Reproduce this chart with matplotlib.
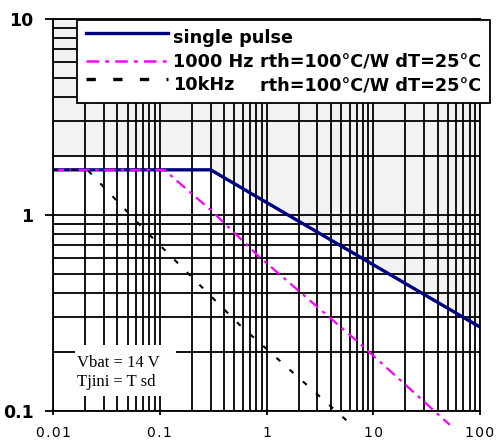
import matplotlib
matplotlib.use('Agg')
import matplotlib.pyplot as plt
from matplotlib.patches import Rectangle
from matplotlib.lines import Line2D
from matplotlib.ticker import LogLocator, NullFormatter

# single pulse curve
single_x = [0.01, 0.3, 100]
single_y = [1.7, 1.7, 0.268]
# 1000 Hz curve
hz1000_x = [0.01, 0.11, 0.3, 0.86, 7.4, 52]
hz1000_y = [1.7, 1.7, 1.06, 0.61, 0.222, 0.085]
# 10 kHz curve
khz10_x = [0.01, 0.021, 0.069, 0.56, 6.1]
khz10_y = [1.7, 1.7, 0.86, 0.275, 0.086]
# grey area above the single pulse curve
shade_x = [0.01, 0.3, 0.3, 100]
shade_y = [2, 2, 1.7, 0.268]

x_ticks = [0.01, 0.1, 1, 10, 100]
x_labels = ['0.01', '0.1', '1', '10', '100']
y_ticks = [0.1, 1, 10]
y_labels = ['0.1', '1', '10']

legend_labels = ['single pulse', '1000 Hz', '10kHz']
legend_extra = ['', 'rth=100°C/W dT=25°C', 'rth=100°C/W dT=25°C']
note_lines = ['Vbat = 14 V', 'Tjini = T sd']

W, H = 496, 443
fig = plt.figure(figsize=(W / 100, H / 100), dpi=100)
ax = fig.add_axes([53 / W, 1 - 411 / H, 427 / W, 392 / H])

ax.set_xscale('log')
ax.set_yscale('log')
ax.set_xlim(0.01, 100)
ax.set_ylim(0.1, 10)

ax.fill_between(shade_x, shade_y, 10, color='#f2f2f2', lw=0, zorder=1)

ax.xaxis.set_minor_locator(LogLocator(base=10, subs=range(2, 10)))
ax.yaxis.set_minor_locator(LogLocator(base=10, subs=range(2, 10)))
ax.xaxis.set_minor_formatter(NullFormatter())
ax.yaxis.set_minor_formatter(NullFormatter())
ax.grid(True, which='both', color='black', lw=1.3)

ax.plot(single_x, single_y, color='#000080', lw=2.4, zorder=3,
        solid_capstyle='butt')
ax.plot(hz1000_x, hz1000_y, color='#ff00ff', lw=1.6, zorder=4,
        linestyle=(0, (5, 2.5, 1.5, 2.5)), clip_on=False)
ax.plot(khz10_x, khz10_y, color='black', lw=1.5, zorder=5,
        linestyle=(0, (2.5, 6)), clip_on=False)

# tick labels are letter-spaced in the original
spaced = ['\u200a'.join(s) for s in x_labels]
ax.set_xticks(x_ticks)
ax.set_xticklabels(spaced, fontsize=10)
ax.set_yticks(y_ticks)
ax.set_yticklabels(y_labels, fontsize=12.5, fontweight='bold')
ax.tick_params(axis='x', which='major', length=3, width=1.3, pad=8)
ax.tick_params(axis='y', which='major', length=6, width=1.3, pad=8)
ax.tick_params(which='minor', length=0)
for sp in ax.spines.values():
    sp.set_linewidth(1.3)
    sp.set_color('black')

# note box
ax.add_patch(Rectangle((75 / W, 1 - 396 / H), 101 / W, 51 / H,
                       transform=fig.transFigure, facecolor='white',
                       edgecolor='none', zorder=6))
fig.text(77 / W, 1 - 367 / H, note_lines[0], family='Liberation Serif',
         fontsize=12, va='baseline', zorder=7)
fig.text(77 / W, 1 - 386 / H, note_lines[1], family='Liberation Serif',
         fontsize=12, va='baseline', zorder=7)

# legend drawn by hand
fig.add_artist(Rectangle((77 / W, 1 - 103 / H), 413 / W, 83 / H,
                         transform=fig.transFigure, facecolor='white',
                         edgecolor='black', lw=1.3, zorder=10))
styles = [dict(color='#000080', lw=2.4),
          dict(color='#ff00ff', lw=1.8, linestyle=(0, (5, 2.5, 1.5, 2.5))),
          dict(color='black', lw=2.4, linestyle=(0, (2.8, 5.2)))]
line_y = [33, 61, 79]
text_y = [43, 67, 90]
for lab, extra, st, ly, ty in zip(legend_labels, legend_extra, styles,
                                  line_y, text_y):
    fig.add_artist(Line2D([86 / W, 168 / W], [1 - ly / H, 1 - ly / H],
                          transform=fig.transFigure, zorder=11, **st))
    fig.text(173 / W, 1 - ty / H, lab, fontsize=12.7, fontweight='bold',
             va='baseline', zorder=12)
    if extra:
        fig.text(481 / W, 1 - ty / H, extra, fontsize=12.7,
                 fontweight='bold', va='baseline', ha='right', zorder=12)

fig.savefig('out.png', dpi=100)
